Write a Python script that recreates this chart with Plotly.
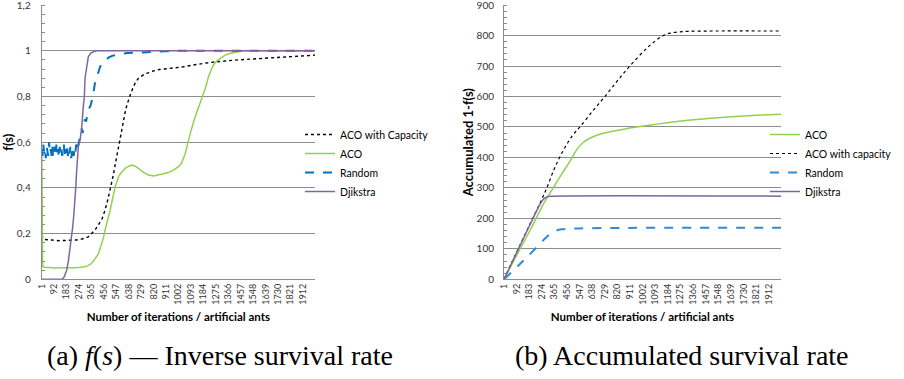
import plotly.graph_objects as go

# ---------------- data: (a) f(s) ----------------
x_ticks = [1, 92, 183, 274, 365, 456, 547, 638, 729, 820, 911, 1002, 1093, 1184,
           1275, 1366, 1457, 1548, 1639, 1730, 1821, 1912]

a_cap_x = [1, 5, 13, 25, 49, 75, 100, 125, 150, 175,
           200, 225, 250, 275, 294, 318, 342, 360, 379, 398,
           416, 428, 440, 452, 465, 477, 489, 501, 514, 526,
           538, 550, 562, 575, 587, 599, 611, 623, 635, 650,
           672, 690, 709, 730, 758, 790, 818, 860, 917, 975,
           1038, 1100, 1161, 1220, 1283, 1340, 1405, 1460, 1527, 1590,
           1649, 1710, 1771, 1830, 1893, 1950, 2000]
a_cap_y = [0.195, 0.185, 0.178, 0.174, 0.172, 0.170, 0.171, 0.169, 0.171, 0.170,
           0.171, 0.170, 0.172, 0.173, 0.175, 0.180, 0.186, 0.196, 0.208, 0.222,
           0.238, 0.250, 0.262, 0.280, 0.303, 0.330, 0.360, 0.390, 0.420, 0.460,
           0.500, 0.540, 0.580, 0.615, 0.655, 0.697, 0.730, 0.760, 0.785, 0.810,
           0.843, 0.865, 0.880, 0.890, 0.900, 0.905, 0.912, 0.918, 0.921, 0.925,
           0.930, 0.937, 0.944, 0.948, 0.952, 0.956, 0.959, 0.961, 0.963, 0.965,
           0.967, 0.969, 0.972, 0.974, 0.977, 0.979, 0.981]

a_aco_x = [1, 3, 8, 25, 60, 100, 150, 200, 250, 290,
           318, 340, 367, 385, 404, 415, 428, 440, 452, 465,
           477, 489, 501, 514, 526, 538, 550, 562, 580, 599,
           620, 640, 660, 685, 709, 740, 782, 820, 855, 890,
           928, 965, 1002, 1025, 1051, 1075, 1095, 1112, 1135, 1161,
           1185, 1205, 1221, 1240, 1258, 1280, 1307, 1340, 1380, 1441,
           1478, 2000]
a_aco_y = [0.60, 0.10, 0.055, 0.053, 0.051, 0.050, 0.051, 0.050, 0.051, 0.053,
           0.055, 0.060, 0.070, 0.085, 0.099, 0.110, 0.135, 0.157, 0.180, 0.216,
           0.240, 0.274, 0.300, 0.340, 0.370, 0.405, 0.425, 0.449, 0.465, 0.478,
           0.490, 0.495, 0.500, 0.495, 0.486, 0.470, 0.456, 0.452, 0.456, 0.460,
           0.467, 0.478, 0.493, 0.510, 0.550, 0.610, 0.655, 0.690, 0.730, 0.770,
           0.814, 0.850, 0.887, 0.915, 0.938, 0.955, 0.967, 0.980, 0.989, 0.996,
           1.0, 1.0]

a_rnd_x = [1, 7, 13, 19, 25, 31, 37, 43, 49, 55,
           61, 67, 73, 79, 85, 91, 97, 103, 109, 115,
           121, 127, 133, 139, 145, 151, 157, 163, 169, 175,
           181, 187, 193, 199, 205, 211, 217, 223, 229, 235,
           241, 247, 253, 259, 265,
           272, 280, 288, 294, 300, 306, 312, 318, 326, 334,
           342, 350, 358, 367, 375, 383, 391, 400, 410, 428,
           446, 465, 490, 515, 538, 580, 630, 684, 750, 807,
           900, 1000, 2000]
a_rnd_y = [0.57, 0.54, 0.59, 0.55, 0.57, 0.53, 0.58, 0.56, 0.54, 0.60,
           0.55, 0.57, 0.54, 0.58, 0.53, 0.56, 0.58, 0.54, 0.59, 0.55,
           0.57, 0.53, 0.58, 0.55, 0.57, 0.54, 0.56, 0.59, 0.53, 0.57,
           0.55, 0.58, 0.54, 0.57, 0.55, 0.58, 0.53, 0.56, 0.58, 0.54,
           0.57, 0.55, 0.59, 0.56, 0.58,
           0.59, 0.62, 0.64, 0.66, 0.64, 0.68, 0.69, 0.70, 0.69, 0.72,
           0.73, 0.75, 0.76, 0.78, 0.80, 0.83, 0.86, 0.88, 0.90, 0.93,
           0.95, 0.96, 0.97, 0.978, 0.982, 0.986, 0.990, 0.992, 0.994, 0.996,
           0.998, 1.0, 1.0]

a_dij_x = [1, 150, 165, 184, 196, 208, 218, 228, 237, 245,
           251, 257, 263, 269, 282, 294, 306, 313, 318, 330,
           342, 360, 379, 404, 2000]
a_dij_y = [0, 0, 0.01, 0.04, 0.08, 0.128, 0.18, 0.23, 0.29, 0.347,
           0.41, 0.478, 0.53, 0.58, 0.61, 0.668, 0.76, 0.80, 0.88, 0.94,
           0.974, 0.99, 0.996, 1.0, 1.0]

# ---------------- data: (b) accumulated 1-f(s) ----------------
b_aco_x = [1, 100, 200, 289, 356, 417, 482, 530, 573, 620, 698, 790, 890, 1010,
           1131, 1250, 1371, 1490, 1612, 1730, 1852, 2000]
b_aco_y = [0, 85, 170, 250, 300, 345, 391, 428, 449, 463, 477, 486, 495, 503,
           511, 518, 524, 529, 533, 536, 539, 542]

b_cap_x = [1, 100, 200, 273, 310, 357, 400, 450, 500, 549, 640, 729, 820, 909,
           1030, 1100, 1149, 1200, 1260, 1330, 1500, 2000]
b_cap_y = [0, 97, 192, 262, 300, 355, 398, 440, 475, 500, 552, 600, 652, 700,
           758, 785, 800, 808, 812, 814, 815, 815]

b_rnd_x = [1, 116, 165, 230, 297, 357, 417, 470, 550, 700, 1000, 2000]
b_rnd_y = [0, 50, 72, 102, 134, 156, 164, 166, 167, 168, 169, 169]

b_dij_x = [1, 100, 200, 240, 266, 290, 320, 350, 2000]
b_dij_y = [0, 95, 190, 228, 250, 265, 272, 273, 273]

# ---------------- styling ----------------
GREEN = "#92D050"
BLUE = "#0070C0"
BLUE2 = "#2E8BD8"
PURPLE = "#8064A2"
BLACK = "#000000"
GRID = "#8C8C8C"
FONT = "Lato"

fig = go.Figure()

# (a)
fig.add_trace(go.Scatter(x=a_cap_x, y=a_cap_y, name="ACO with Capacity", mode="lines",
                         line=dict(color=BLACK, width=1.4, dash="dot"),
                         xaxis="x", yaxis="y", legend="legend"))
fig.add_trace(go.Scatter(x=a_aco_x, y=a_aco_y, name="ACO", mode="lines",
                         line=dict(color=GREEN, width=1.5),
                         xaxis="x", yaxis="y", legend="legend"))
fig.add_trace(go.Scatter(x=a_rnd_x, y=a_rnd_y, name="Random", mode="lines",
                         line=dict(color=BLUE, width=2, dash="dash"),
                         xaxis="x", yaxis="y", legend="legend"))
fig.add_trace(go.Scatter(x=a_dij_x, y=a_dij_y, name="Djikstra", mode="lines",
                         line=dict(color=PURPLE, width=1.5),
                         xaxis="x", yaxis="y", legend="legend"))

# (b)
fig.add_trace(go.Scatter(x=b_aco_x, y=b_aco_y, name="ACO", mode="lines",
                         line=dict(color=GREEN, width=1.5, shape="spline"),
                         xaxis="x2", yaxis="y2", legend="legend2"))
fig.add_trace(go.Scatter(x=b_cap_x, y=b_cap_y, name="ACO with capacity", mode="lines",
                         line=dict(color=BLACK, width=1.2, dash="dot", shape="spline"),
                         xaxis="x2", yaxis="y2", legend="legend2"))
fig.add_trace(go.Scatter(x=b_rnd_x, y=b_rnd_y, name="Random", mode="lines",
                         line=dict(color=BLUE2, width=2, dash="dash", shape="spline"),
                         xaxis="x2", yaxis="y2", legend="legend2"))
fig.add_trace(go.Scatter(x=b_dij_x, y=b_dij_y, name="Djikstra", mode="lines",
                         line=dict(color=PURPLE, width=1.5, shape="spline"),
                         xaxis="x2", yaxis="y2", legend="legend2"))

W, H = 904, 379
ydom = [1 - 279.3 / H, 1 - 5 / H]

xcommon = dict(range=[1, 2000], tickvals=x_ticks, ticktext=[str(v) for v in x_ticks],
               tickangle=-90, showgrid=False, zeroline=False, showline=True,
               linecolor=GRID, linewidth=1, ticks="", automargin=False,
               ticklabeloverflow="allow",
               tickfont=dict(family=FONT, size=9, color="#333333"),
               title=dict(text="<b>Number of iterations / artificial ants</b>",
                          font=dict(family=FONT, size=11.5, color="#000000"), standoff=9))

ycommon = dict(showgrid=True, gridcolor=GRID, gridwidth=1, zeroline=False,
               showline=True, linecolor=GRID, ticks="", automargin=False,
               ticklabeloverflow="allow",
               tickfont=dict(family=FONT, size=10, color="#333333"))

fig.update_layout(
    template="none",
    width=W, height=H,
    margin=dict(l=0, r=0, t=0, b=0, pad=0),
    paper_bgcolor="white", plot_bgcolor="white",
    font=dict(family=FONT),
    xaxis=dict(domain=[41.7 / W, 315 / W], anchor="y", **xcommon),
    xaxis2=dict(domain=[504 / W, 781 / W], anchor="y2", **xcommon),
    yaxis=dict(domain=ydom, anchor="x", range=[0, 1.2005],
               tickvals=[0, 0.2, 0.4, 0.6, 0.8, 1.0, 1.2],
               ticktext=["0", "0,2", "0,4", "0,6", "0,8", "1", "1,2"],
               ticklabelstandoff=8,
               minor=dict(dtick=0.04, ticks="inside", ticklen=3, tickcolor=GRID, showgrid=False),
               title=dict(text="<b>f(s)</b>", font=dict(family=FONT, size=13, color="#000000"),
                          standoff=4),
               **ycommon),
    yaxis2=dict(domain=ydom, anchor="x2", range=[0, 900.4],
                tickvals=[0, 100, 200, 300, 400, 500, 600, 700, 800, 900],
                ticktext=["0", "100", "200", "300", "400", "500", "600", "700", "800", "900"],
                ticklabelstandoff=7,
                minor=dict(dtick=20, ticks="inside", ticklen=3, tickcolor=GRID, showgrid=False),
                title=dict(text="<b>Accumulated 1-f(s)</b>",
                           font=dict(family=FONT, size=13, color="#000000"), standoff=0),
                **ycommon),
    legend=dict(x=300 / W, y=1 - 120 / H, xanchor="left", yanchor="top",
                font=dict(family=FONT, size=10.5, color="#000000"),
                bgcolor="rgba(0,0,0,0)", itemwidth=30, tracegroupgap=0),
    legend2=dict(x=765 / W, y=1 - 120 / H, xanchor="left", yanchor="top",
                 font=dict(family=FONT, size=10.5, color="#000000"),
                 bgcolor="rgba(0,0,0,0)", itemwidth=30, tracegroupgap=0),
    annotations=[
        dict(text="(a) <i>f</i>(<i>s</i>) — Inverse survival rate", x=220 / W, y=1 - 355 / H,
             xref="paper", yref="paper", showarrow=False, xanchor="center", yanchor="middle",
             font=dict(family="Liberation Serif", size=28, color="#000000")),
        dict(text="(b) Accumulated survival rate", x=682 / W, y=1 - 355 / H,
             xref="paper", yref="paper", showarrow=False, xanchor="center", yanchor="middle",
             font=dict(family="Liberation Serif", size=28, color="#000000")),
    ],
)

fig.write_html("out.html", config={"displayModeBar": False},
               post_script="document.body.style.margin='0';document.body.style.overflow='hidden';")
